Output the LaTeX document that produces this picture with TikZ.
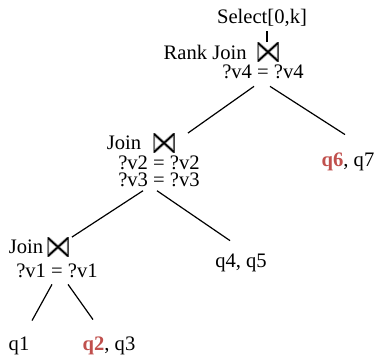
\documentclass[tikz,border=0pt]{standalone}
\usepackage{fontspec}
\setmainfont{Liberation Serif}
\usepackage{tikz}
\definecolor{hitred}{HTML}{C0504D}
\newcommand{\hit}[1]{\textbf{\textcolor{hitred}{#1}}}
\tikzset{
  lbl/.style={inner sep=0pt, font=\fontsize{10.3}{12}\selectfont},
  joinsym/.style={minimum width=10.5pt, minimum height=9.5pt, inner sep=0pt,
    path picture={
      \draw[gray!70, line width=1.6pt, line join=miter]
        (path picture bounding box.north west) -- (path picture bounding box.south west)
        -- (path picture bounding box.north east) -- (path picture bounding box.south east) -- cycle;
      \draw[black, line width=0.8pt, line join=miter]
        (path picture bounding box.north west) -- (path picture bounding box.south west)
        -- (path picture bounding box.north east) -- (path picture bounding box.south east) -- cycle;
    }},
  edge/.style={line width=0.6pt}
}
\begin{document}
\begin{tikzpicture}[x=0.5pt, y=-0.5pt]
		\useasboundingbox (0,0) rectangle (374,362);
		% top: select and rank join
		\node[lbl] (sel) at (262,18) {Select[0,k]};
		\node[joinsym] (bt1) at (268,52) {};
		\node[lbl, anchor=east] (rj) at (247,52) {Rank Join};
		\node[lbl] (c4) at (263,72) {?v4 = ?v4};
		\draw[edge, shorten >=2pt] ([xshift=-0.5pt]bt1.north) -- ([xshift=-0.5pt]bt1.north |- sel.south);
		% middle join
		\node[lbl] (j2) at (124,143) {Join};
		\node[joinsym] (bt2) at (164,143) {};
		\node[lbl, align=center, anchor=north, font=\fontsize{10.3}{8.5}\selectfont]
			(c23) at (159,155) {?v2 = ?v2\\?v3 = ?v3};
		\node[lbl] (r1) at (348,162) {\hit{q6}, q7};
		% bottom join
		\node[lbl] (j3) at (26,247) {Join};
		\node[joinsym] (bt3) at (58,247) {};
		\node[lbl] (c1) at (57,271) {?v1 = ?v1};
		\node[lbl] (r2) at (241,263) {q4, q5};
		\node[lbl] (l1) at (19,346) {q1};
		\node[lbl] (l2) at (109,346) {\hit{q2}, q3};
		% tree edges
		\draw[edge] ([shift={(-9,7)}]c4.south) -- ([shift={(13,0)}]bt2.north east);
		\draw[edge] ([shift={(7,7)}]c4.south) -- ([shift={(-3,-18)}]r1.north);
		\draw[edge] ([shift={(-16,4)}]c23.south) -- ([shift={(3,0)}]bt3.north east);
		\draw[edge] ([shift={(-2,4)}]c23.south) -- ([shift={(-11,-13)}]r2.north);
		\draw[edge] ([shift={(-5,6)}]c1.south) -- ([shift={(13,-16)}]l1.north);
		\draw[edge] ([shift={(11,6)}]c1.south) -- ([shift={(-16,-17)}]l2.north);
		\end{tikzpicture}
\end{document}
